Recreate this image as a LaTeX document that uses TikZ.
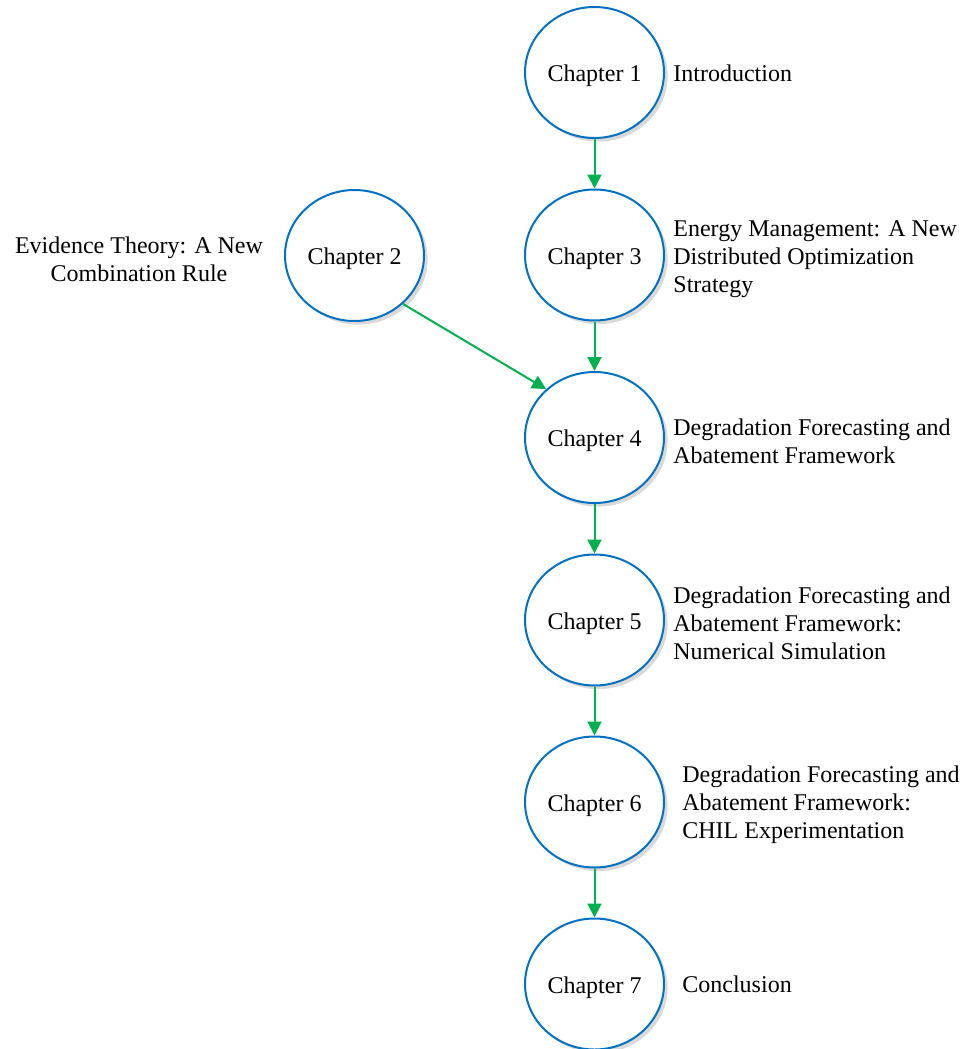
\documentclass[tikz,border=0pt]{standalone}
\usepackage{fontspec}
\setmainfont{Liberation Serif}
\usetikzlibrary{arrows.meta,shapes.geometric,shadows}
\definecolor{ringblue}{RGB}{0,112,192}
\definecolor{flowgreen}{RGB}{0,176,80}
\tikzset{
  chapter/.style={ellipse, draw=ringblue, line width=1pt, fill=white,
    minimum width=69.5pt, minimum height=65.5pt, inner sep=0pt,
    text height=9pt, text depth=0pt,
    drop shadow={opacity=0.3, shadow xshift=1.8pt, shadow yshift=-1.8pt}},
  note/.style={anchor=west, align=left, inner sep=0pt},
  flow/.style={draw=flowgreen, line width=1pt,
    -{Triangle[width=7pt,length=7pt]}},
}
\begin{document}
\begin{tikzpicture}[x=0.5pt, y=-0.5pt, font=\fontsize{12pt}{14pt}\selectfont]
\useasboundingbox (0,0) rectangle (969,1049);
% chapter circles
\node[chapter] (c1) at (594.5,72.5) {Chapter 1};
\node[chapter] (c2) at (354.5,255.5) {Chapter 2};
\node[chapter] (c3) at (594.5,255) {Chapter 3};
\node[chapter] (c4) at (594.5,437.5) {Chapter 4};
\node[chapter] (c5) at (594.5,620) {Chapter 5};
\node[chapter] (c6) at (594.5,802) {Chapter 6};
\node[chapter] (c7) at (594.5,984) {Chapter 7};
% chapter titles
\node[note] (t1) at (673,73) {Introduction};
\node[note] (t3) at (673,259) {Energy Management: A New\\Distributed Optimization\\Strategy};
\node[note] (t4) at (673,441) {Degradation Forecasting and\\Abatement Framework};
\node[note] (t5) at (673,623) {Degradation Forecasting and\\Abatement Framework:\\Numerical Simulation};
\node[note] (t6) at (682,805) {Degradation Forecasting and\\Abatement Framework:\\CHIL Experimentation};
\node[note] (t7) at (682,984) {Conclusion};
\node[align=center, inner sep=0pt] (t2) at (139,259) {Evidence Theory: A New\\Combination Rule};
% reading order
\draw[flow] (c1.south) -- (c3.north);
\draw[flow] (c3.south) -- (c4.north);
\draw[flow] (c4.south) -- (c5.north);
\draw[flow] (c5.south) -- (c6.north);
\draw[flow] (c6.south) -- (c7.north);
\draw[flow] (c2.-45) -- (c4.135);
\end{tikzpicture}
\end{document}
